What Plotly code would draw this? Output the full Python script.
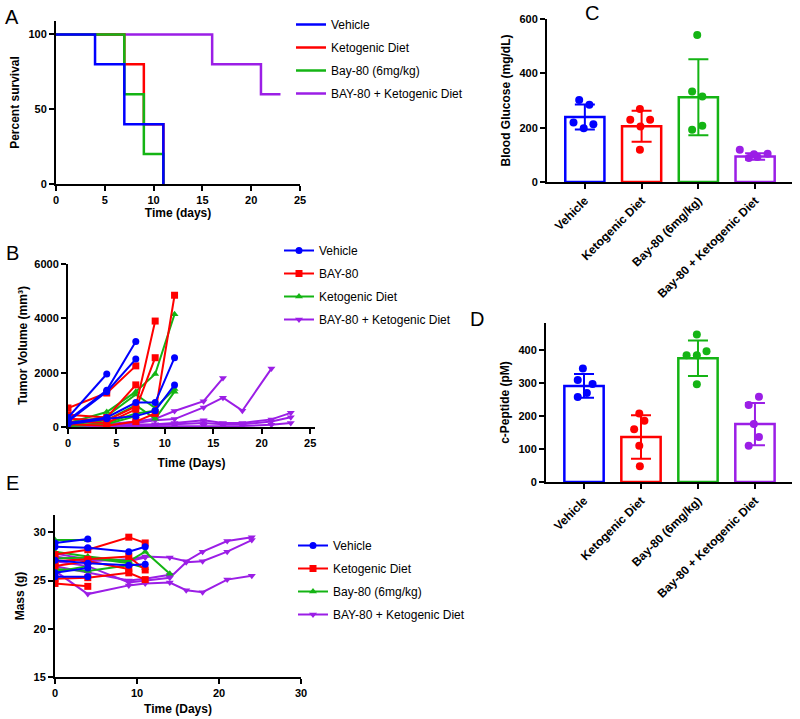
import plotly.graph_objects as go

W, H = 800, 719

BLUE = "#0000FF"
RED = "#FF0000"
GREEN = "#14B414"
PURPLE = "#9B1EE6"
FONT = "Liberation Sans, Arial, sans-serif"

# ---------------- A: survival ----------------
surv_t_vehicle = [0, 4, 7, 11]
surv_vehicle = [100, 80, 40, 0]
surv_t_keto = [0, 7, 9, 11]
surv_keto = [100, 80, 40, 0]
surv_t_bay = [0, 7, 9, 11]
surv_bay = [100, 60, 20, 0]
surv_t_combo = [0, 16, 21, 23]
surv_combo = [100, 80, 60, 60]

# ---------------- B: tumor volume (one list per mouse) ----------------
tumor_days_vehicle = [[0, 4], [0, 4, 7], [0, 4, 7], [0, 4, 7, 9, 11], [0, 4, 7, 9, 11]]
tumor_vehicle = [[350, 1950], [250, 1350, 3150], [200, 1300, 2500],
                 [150, 350, 900, 900, 2550], [100, 300, 400, 600, 1550]]
tumor_days_bay = [[0, 4, 7], [0, 4, 7], [0, 4, 7, 9], [0, 4, 7, 9], [0, 4, 7, 9, 11]]
tumor_bay = [[700, 1250, 2250], [450, 350, 1550], [300, 250, 750, 3900],
             [200, 150, 650, 2550], [100, 50, 200, 500, 4850]]
tumor_days_keto = [[0, 4, 7, 9, 11], [0, 4, 7, 9, 11], [0, 4, 7, 9, 11], [0, 4, 7, 9], [0, 4, 7]]
tumor_keto = [[150, 550, 1300, 1950, 4150], [100, 400, 1200, 700, 1400],
              [80, 250, 800, 300, 1300], [50, 150, 500, 600], [30, 100, 400]]
tumor_days_combo = [[0, 4, 7, 9, 11, 14, 16],
                    [0, 4, 7, 9, 11, 14, 16, 18, 21],
                    [0, 4, 7, 9, 11, 14, 16, 18, 21, 23],
                    [0, 4, 7, 9, 11, 14, 16, 18, 21, 23],
                    [0, 4, 7, 9, 11, 14, 16, 18, 21, 23]]
tumor_combo = [[50, 100, 200, 300, 590, 950, 1800],
               [50, 100, 150, 250, 290, 720, 1080, 600, 2150],
               [40, 60, 80, 100, 150, 250, 150, 150, 280, 520],
               [30, 40, 60, 80, 100, 150, 100, 100, 200, 360],
               [20, 30, 30, 40, 40, 50, 40, 40, 80, 150]]

# ---------------- E: body mass ----------------
mass_days_vehicle = [[0, 4], [0, 4, 9, 11], [0, 4, 9, 11], [0, 4], [0, 4]]
mass_vehicle = [[28.9, 29.3], [28.5, 28.4, 28.0, 28.5], [27.1, 26.8, 26.6, 26.7],
                [25.8, 26.3], [25.4, 25.4]]
mass_days_keto = [[0, 4, 9, 11], [0, 4, 9, 11], [0, 4, 9, 11], [0, 4], [0, 4, 9]]
mass_keto = [[27.7, 28.2, 29.5, 28.9], [27.0, 27.2, 27.5, 26.1], [25.2, 25.3, 25.8, 25.1],
             [24.7, 24.4], [26.5, 27.0, 26.2]]
mass_days_bay = [[0, 4], [0, 4, 9, 11, 14], [0, 4, 9, 11], [0, 4, 9], [0, 4]]
mass_bay = [[29.2, 29.2], [28.0, 27.5, 27.0, 28.0, 25.7], [27.3, 27.4, 26.8, 26.3],
            [26.2, 26.0, 26.6], [25.9, 26.5]]
mass_days_combo = [[0, 4, 9, 11, 14, 16, 18, 21, 24],
                   [0, 4, 9, 11, 14, 16, 18, 21, 24],
                   [0, 4, 9, 11, 14, 16, 18, 21, 24],
                   [0, 4, 9, 11, 14],
                   [0, 4, 9, 11]]
mass_combo = [[26.0, 23.6, 24.5, 24.7, 24.8, 24.0, 23.8, 25.1, 25.5],
              [27.0, 26.5, 24.8, 25.0, 25.3, 26.9, 27.0, 28.0, 29.2],
              [27.5, 27.0, 27.2, 27.5, 27.4, 27.0, 28.0, 29.1, 29.5],
              [26.5, 25.8, 25.0, 25.2, 25.6],
              [27.8, 27.2, 27.0, 27.4]]

# ---------------- C / D: bars ----------------
bar_groups = ["Vehicle", "Ketogenic Diet", "Bay-80 (6mg/kg)", "Bay-80 + Ketogenic Diet"]
glucose_mean = [239, 205, 312, 94]
glucose_sd = [46, 57, 140, 12]
glucose_pts = [[302, 284, 219, 213, 198],
               [269, 229, 229, 204, 119],
               [541, 333, 315, 192, 207],
               [119, 88, 92, 104, 102]]
peptide_mean = [292, 137, 376, 176]
peptide_sd = [36, 66, 54, 64]
peptide_pts = [[345, 310, 298, 270, 258],
               [208, 186, 160, 110, 48],
               [448, 397, 385, 385, 297],
               [259, 234, 176, 137, 110]]

# horizontal jitter of the dots inside each bar (styling only)
glucose_jitter = [[-0.1, 0.08, -0.2, 0.15, -0.02],
                  [-0.03, -0.2, 0.15, -0.02, -0.03],
                  [-0.02, -0.11, 0.07, -0.11, 0.07],
                  [-0.27, -0.11, 0.04, 0.22, -0.02]]
peptide_jitter = [[-0.02, -0.11, 0.15, 0.05, -0.11],
                  [-0.03, 0.06, -0.12, -0.03, -0.02],
                  [-0.02, 0.15, -0.2, -0.02, -0.02],
                  [0.07, -0.11, -0.02, 0.07, -0.11]]
bar_colors = [BLUE, RED, GREEN, PURPLE]


def joined(days_list, vals_list):
    xs, ys = [], []
    for d, v in zip(days_list, vals_list):
        xs += list(d) + [None]
        ys += list(v) + [None]
    return xs, ys


# helpers: page pixel -> paper fraction
def fx(p):
    return p / W


def fy(p):
    return 1 - p / H


def px_x(a, b):
    return [fx(a), fx(b)]


def px_y(top, bottom):
    return [fy(bottom), fy(top)]


fig = go.Figure()

# A - draw order purple, red, green, blue; legend order set by rank
for name, t, s, c, rank in [
    ("BAY-80 + Ketogenic Diet", surv_t_combo, surv_combo, PURPLE, 4),
    ("Ketogenic Diet", surv_t_keto, surv_keto, RED, 2),
    ("Bay-80 (6mg/kg)", surv_t_bay, surv_bay, GREEN, 3),
    ("Vehicle", surv_t_vehicle, surv_vehicle, BLUE, 1),
]:
    fig.add_trace(go.Scatter(
        x=t, y=s, mode="lines", line=dict(color=c, width=2.5, shape="hv"),
        name=name, legend="legend", legendgroup="a" + str(rank), legendrank=rank,
        xaxis="x", yaxis="y"))

# B
for name, d, v, c, sym, rank in [
    ("BAY-80 + Ketogenic Diet", tumor_days_combo, tumor_combo, PURPLE, "triangle-down", 4),
    ("Ketogenic Diet", tumor_days_keto, tumor_keto, GREEN, "triangle-up", 3),
    ("BAY-80", tumor_days_bay, tumor_bay, RED, "square", 2),
    ("Vehicle", tumor_days_vehicle, tumor_vehicle, BLUE, "circle", 1),
]:
    xs, ys = joined(d, v)
    fig.add_trace(go.Scatter(
        x=xs, y=ys, mode="lines+markers", line=dict(color=c, width=2),
        marker=dict(color=c, size=7, symbol=sym), connectgaps=False,
        name=name, legend="legend2", legendgroup="b" + str(rank), legendrank=rank,
        xaxis="x2", yaxis="y2"))

# E
for name, d, v, c, sym, rank in [
    ("BAY-80 + Ketogenic Diet", mass_days_combo, mass_combo, PURPLE, "triangle-down", 4),
    ("Bay-80 (6mg/kg)", mass_days_bay, mass_bay, GREEN, "triangle-up", 3),
    ("Ketogenic Diet", mass_days_keto, mass_keto, RED, "square", 2),
    ("Vehicle", mass_days_vehicle, mass_vehicle, BLUE, "circle", 1),
]:
    xs, ys = joined(d, v)
    fig.add_trace(go.Scatter(
        x=xs, y=ys, mode="lines+markers", line=dict(color=c, width=2),
        marker=dict(color=c, size=7, symbol=sym), connectgaps=False,
        name=name, legend="legend3", legendgroup="e" + str(rank), legendrank=rank,
        xaxis="x3", yaxis="y3"))

# C and D bars
for ax, means, sds, pts, jit in [
    ("4", glucose_mean, glucose_sd, glucose_pts, glucose_jitter),
    ("5", peptide_mean, peptide_sd, peptide_pts, peptide_jitter),
]:
    for i, c in enumerate(bar_colors):
        fig.add_trace(go.Bar(
            x=[i], y=[means[i]], width=0.69,
            marker=dict(color="rgba(0,0,0,0)", line=dict(color=c, width=2.5)),
            error_y=dict(type="data", array=[sds[i]], color=c, thickness=2, width=10),
            showlegend=False, xaxis="x" + ax, yaxis="y" + ax))
        fig.add_trace(go.Scatter(
            x=[i + j for j in jit[i]], y=pts[i], mode="markers",
            marker=dict(color=c, size=8), showlegend=False,
            xaxis="x" + ax, yaxis="y" + ax))

axis_common = dict(
    showline=True, linecolor="black", linewidth=2, mirror=False,
    ticks="outside", tickwidth=2, ticklen=5, tickcolor="black",
    showgrid=False, zeroline=False, automargin=False,
    tickfont=dict(family=FONT, size=11, color="black", weight="bold"),
)
cat_tickfont = dict(family=FONT, size=12, color="black", weight="bold")
title_font = dict(family=FONT, size=12, color="black", weight="bold")

legend_common = dict(
    xanchor="left", yanchor="top", bgcolor="rgba(0,0,0,0)",
    font=dict(family=FONT, size=12, color="black"),
    tracegroupgap=4, itemwidth=30,
)

fig.update_layout(
    width=W, height=H, margin=dict(l=0, r=0, t=0, b=0, autoexpand=False),
    paper_bgcolor="white", plot_bgcolor="white",
    barmode="overlay",
    # A
    xaxis=dict(axis_common, domain=px_x(56, 300), range=[0, 25], tickvals=[0, 5, 10, 15, 20, 25],
               anchor="y", title=dict(text="Time (days)", font=title_font, standoff=2)),
    yaxis=dict(axis_common, domain=px_y(21, 184), range=[0, 109], tickvals=[0, 50, 100],
               anchor="x", title=dict(text="Percent survival", font=title_font, standoff=6)),
    # B
    xaxis2=dict(axis_common, domain=px_x(68, 315), range=[0, 25.5], tickvals=[0, 5, 10, 15, 20, 25],
                anchor="y2", title=dict(text="Time (Days)", font=title_font, standoff=10)),
    yaxis2=dict(axis_common, domain=px_y(264, 427), range=[0, 6000], tickvals=[0, 2000, 4000, 6000],
                anchor="x2", title=dict(text="Tumor Volume (mm³)", font=title_font, standoff=4)),
    # E
    xaxis3=dict(axis_common, domain=px_x(55, 301), range=[0, 30], tickvals=[0, 10, 20, 30],
                anchor="y3", title=dict(text="Time (Days)", font=title_font, standoff=6)),
    yaxis3=dict(axis_common, domain=px_y(515, 677), range=[15, 31.8], tickvals=[15, 20, 25, 30],
                anchor="x3", title=dict(text="Mass (g)", font=title_font, standoff=6)),
    # C
    xaxis4=dict(axis_common, domain=px_x(547, 792), range=[-0.667, 3.65], tickvals=[0, 1, 2, 3],
                ticktext=bar_groups, tickangle=-45, tickfont=cat_tickfont, anchor="y4"),
    yaxis4=dict(axis_common, domain=px_y(19, 182), range=[0, 600], tickvals=[0, 200, 400, 600],
                anchor="x4", title=dict(text="Blood Glucose (mg/dL)", font=title_font, standoff=6)),
    # D
    xaxis5=dict(axis_common, domain=px_x(546, 792), range=[-0.667, 3.65], tickvals=[0, 1, 2, 3],
                ticktext=bar_groups, tickangle=-45, tickfont=cat_tickfont, anchor="y5"),
    yaxis5=dict(axis_common, domain=px_y(323, 482), range=[0, 483], tickvals=[0, 100, 200, 300, 400],
                anchor="x5", title=dict(text="c-Peptide (pM)", font=title_font, standoff=6)),
    legend=dict(legend_common, x=fx(291), y=fy(10)),
    legend2=dict(legend_common, x=fx(279), y=fy(236)),
    legend3=dict(legend_common, x=fx(293), y=fy(531)),
)

for letter, x, y in [("A", 12, 17), ("B", 12, 253), ("E", 12, 483), ("C", 592, 13), ("D", 477, 319)]:
    fig.add_annotation(text=letter, x=fx(x), y=fy(y), xref="paper", yref="paper",
                       showarrow=False, xanchor="center", yanchor="middle",
                       font=dict(family=FONT, size=20, color="black"))

# drop the default body margin so the 800x719 figure fills the window exactly
fig.write_html("out.html", config={"displayModeBar": False},
               post_script="document.body.style.margin='0';")
